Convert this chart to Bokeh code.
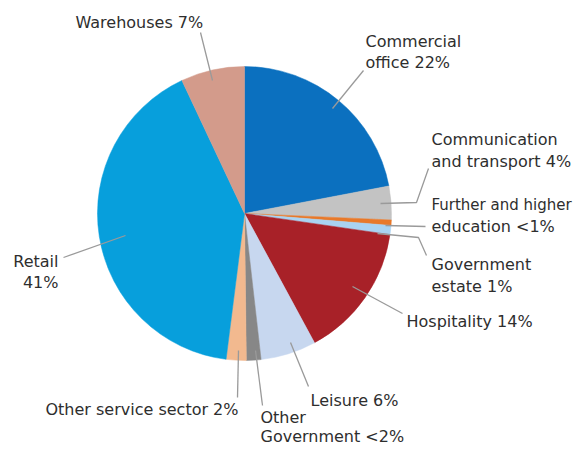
import math
from bokeh.plotting import figure
from bokeh.models import Range1d, ColumnDataSource
from bokeh.core.properties import value
from bokeh.embed import file_html
from bokeh.resources import INLINE

# ---- data (share of total, %) ----
categories = ["Commercial office", "Communication and transport", "Further and higher education",
              "Government estate", "Hospitality", "Leisure", "Other Government",
              "Other service sector", "Retail", "Warehouses"]
shares = [22.0, 3.7, 0.6, 1.0, 14.8, 6.1, 1.6, 2.2, 41.0, 7.0]
colors = ["#0b70bf", "#c3c3c3", "#e8792a", "#a9d3f2", "#a82128",
          "#c7d7ef", "#878787", "#f2b98f", "#079fdc", "#d39b8b"]

label_lines = [["Commercial", "office 22%"],
               ["Communication", "and transport 4%"],
               ["Further and higher", "education <1%"],
               ["Government", "estate 1%"],
               ["Hospitality 14%"],
               ["Leisure 6%"],
               ["Other", "Government <2%"],
               ["Other service sector 2%"],
               ["Retail", "41%"],
               ["Warehouses 7%"]]

# ---- layout (picture pixel coordinates, y down; label y = line centre) ----
W, H = 574, 449
cx, cy, R = 244, 213, 147
label_pos = [(365, 41, "left", 21), (431, 139, "left", 22), (431, 204, "left", 22),
             (431, 264, "left", 22), (406, 321, "left", 21), (310, 400, "left", 21),
             (260, 417, "left", 19), (45, 409, "left", 21), (58, 261, "right", 21),
             (75, 22, "left", 21)]
leaders = [[(363, 70), (332, 108)],
           [(428, 168), (416, 202), (380, 203)],
           [(425, 226), (385, 225)],
           [(426, 255), (418, 237), (377, 233)],
           [(402, 313), (352, 286)],
           [(308, 386), (290, 342)],
           [(262, 405), (255, 350)],
           [(237, 397), (238, 350)],
           [(63, 257), (125, 235)],
           [(200, 32), (212, 80)]]


def Y(y):
    return H - y


p = figure(width=W, height=H, output_backend="svg", toolbar_location=None,
           x_axis_type=None, y_axis_type=None,
           x_range=Range1d(0, W), y_range=Range1d(0, H),
           min_border=0, outline_line_color=None, background_fill_color="white")
p.grid.visible = False

total = sum(shares)
starts, ends = [], []
acc = 0.0
for s in shares:
    a0 = acc / total * 2 * math.pi
    acc += s
    a1 = acc / total * 2 * math.pi
    starts.append(math.pi / 2 - a0)
    ends.append(math.pi / 2 - a1)

src = ColumnDataSource(dict(x=[cx] * len(shares), y=[Y(cy)] * len(shares),
                            start=starts, end=ends, color=colors, name=categories))
p.wedge(x="x", y="y", radius=R, start_angle="start", end_angle="end",
        direction="clock", fill_color="color", line_color="color", line_width=0.5, source=src)

# leader lines
p.multi_line(xs=[[pt[0] for pt in l] for l in leaders],
             ys=[[Y(pt[1]) for pt in l] for l in leaders],
             line_color="#9a9a9a", line_width=1.3)

# labels
tx, ty, tt, ta, ts = [], [], [], [], []
for lines, (lx, ly, al, step) in zip(label_lines, label_pos):
    for i, t in enumerate(lines):
        tx.append(lx)
        ty.append(Y(ly + i * step))
        tt.append(t)
        ta.append(al)
        ts.append("15px" if t == "Further and higher" else "16px")
p.text(x=tx, y=ty, text=tt, text_align=ta, text_baseline="middle",
       text_font=value("DejaVu Sans"), text_font_size=ts, text_color="#2e2e2e")

open("out.html", "w").write(file_html(p, INLINE))
